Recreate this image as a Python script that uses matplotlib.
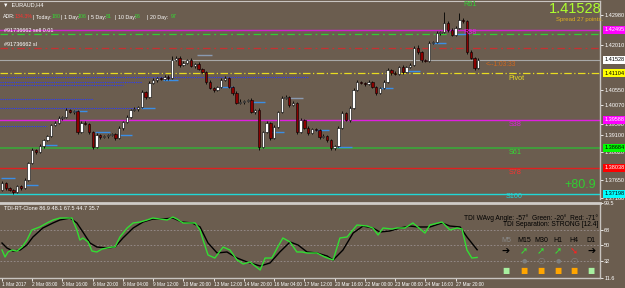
import numpy as np
import matplotlib.pyplot as plt
import matplotlib.transforms as mtransforms

plt.rcParams['font.family'] = ['Liberation Sans', 'DejaVu Sans']

BG = '#6b5d4f'
W, H = 625, 288
FS = 4.0  # small MT4-like text

# H4 candles (close prices), opens = previous close
first_open = 1.37327
closes = [1.37553, 1.37392, 1.37327, 1.37262, 1.37456, 1.37392, 1.37650, 1.38199, 1.38619, 1.38554,
          1.38748, 1.38942, 1.39071, 1.39429, 1.39493, 1.39653, 1.39685, 1.39911, 1.39846, 1.39878,
          1.39200, 1.39493, 1.39461, 1.39200, 1.38716, 1.39104, 1.39039, 1.39071, 1.39104, 1.39136,
          1.39007, 1.39330, 1.39524, 1.39685, 1.39911, 1.39943, 1.40008, 1.40492, 1.40331, 1.40783,
          1.40880, 1.40945, 1.40913, 1.40977, 1.40945, 1.41526, 1.41591, 1.41365, 1.41429, 1.41526,
          1.41332, 1.41397, 1.41236, 1.41138, 1.40815, 1.40622, 1.40557, 1.40654, 1.40880, 1.40945,
          1.40654, 1.40460, 1.40137, 1.40169, 1.40201, 1.40234, 1.39846, 1.39911, 1.38716, 1.39200,
          1.39493, 1.39007, 1.39362, 1.39846, 1.40299, 1.40331, 1.40072, 1.40137, 1.39200, 1.39588,
          1.39330, 1.39168, 1.39297, 1.39265, 1.39039, 1.39071, 1.38942, 1.38684, 1.38748, 1.39330,
          1.39814, 1.39588, 1.39976, 1.40557, 1.40815, 1.40783, 1.40751, 1.40815, 1.40654, 1.40460,
          1.40622, 1.40815, 1.41203, 1.41106, 1.41074, 1.41300, 1.41138, 1.41300, 1.41365, 1.41914,
          1.41784, 1.41526, 1.41494, 1.42075, 1.42107, 1.42398, 1.42430, 1.42721, 1.42495, 1.42334,
          1.42560, 1.42818, 1.42786, 1.41784, 1.41591, 1.41268, 1.41528]
up_wick = [5, 3, 4, 3, 4, 3, 6, 4, 5, 3,
           6, 4, 4, 3, 5, 6, 4, 5, 4, 3,
           4, 6, 5, 4, 3, 5, 3, 4, 3, 4,
           4, 6, 3, 5, 4, 6, 3, 6, 4, 5,
           6, 3, 4, 5, 6, 12, 8, 6, 5, 4,
           5, 4, 6, 3, 4, 5, 3, 4, 5, 6,
           3, 4, 5, 9, 4, 3, 6, 4, 5, 4,
           6, 3, 5, 4, 5, 6, 4, 5, 4, 5,
           4, 5, 3, 4, 3, 5, 4, 3, 4, 5,
           6, 4, 5, 6, 5, 4, 3, 5, 4, 3,
           4, 5, 6, 4, 5, 4, 5, 4, 5, 6,
           9, 4, 3, 5, 4, 5, 4, 35, 8, 5,
           5, 22, 6, 4, 5, 4, 5]
dn_wick = [4, 5, 3, 6, 4, 5, 3, 4, 3, 5,
           4, 5, 3, 4, 3, 4, 5, 3, 4, 5,
           5, 3, 4, 6, 8, 3, 5, 4, 5, 4,
           6, 4, 5, 3, 4, 3, 5, 4, 5, 3,
           4, 5, 3, 4, 5, 3, 4, 5, 4, 3,
           4, 5, 3, 4, 6, 4, 5, 3, 4, 3,
           4, 5, 4, 3, 5, 4, 3, 5, 9, 4,
           4, 6, 3, 4, 3, 4, 5, 4, 6, 3,
           4, 5, 3, 4, 5, 3, 6, 8, 5, 3,
           3, 4, 5, 4, 3, 4, 5, 3, 4, 5,
           3, 4, 3, 5, 4, 3, 5, 4, 3, 4,
           5, 6, 4, 3, 4, 3, 5, 4, 5, 4,
           3, 4, 5, 6, 4, 5, 4]

# pivot / order levels
r38, pivot, s38, s61, s78, s100 = 1.42495, 1.41104, 1.39588, 1.38684, 1.38038, 1.37198
sell_level, sl_level, bid = 1.42366, 1.41914, 1.41528

# short blue level marks
seg_bar = [0, 6, 11, 19, 25, 31, 37, 43, 52, 58, 66, 71, 76, 83, 89, 100, 107, 114, 120]
seg_price = [1.37715, 1.37489, 1.38781, 1.39878, 1.39200, 1.39104, 1.39975, 1.40880, 1.41688, 1.40654,
             1.40169, 1.39200, 1.40299, 1.39265, 1.38716, 1.40622, 1.41171, 1.42075, 1.42366]
# dotted blue lines from left edge
dot_price = [1.40977, 1.40815, 1.40718, 1.40266, 1.39976, 1.39394]
dot_end = [81, 37, 32, 24, 36, 12]

# visible price scale labels (others hidden behind the coloured level boxes)
price_ticks = [1.42980, 1.42010, 1.40550, 1.40070, 1.39470, 1.39100, 1.38560,
               1.37650, 1.37070]
price_tick_labels = ['1.42980', '1.42010', '1.40550', '1.40070', '1.39590', '1.39100', '1.38620',
                     '1.37650', '1.37160']

time_labels = ['1 Mar 2017', '2 Mar 08:00', '3 Mar 16:00', '6 Mar 20:00', '8 Mar 04:00',
               '9 Mar 12:00', '10 Mar 20:00', '13 Mar 12:00', '14 Mar 20:00', '16 Mar 04:00',
               '17 Mar 12:00', '20 Mar 16:00', '22 Mar 00:00', '23 Mar 08:00', '24 Mar 16:00',
               '27 Mar 20:00']

# TDI lines (bar position, value)
tdi_green_x = [0, 0.8, 1.6, 2.6, 4, 5.3, 6.6, 7.9, 10, 11.9,
               13.5, 15.3, 17.2, 18.5, 19.8, 20.6, 21.4, 22.8, 23.8, 25.1,
               26.5, 27.8, 29.1, 29.9, 31.2, 33.1, 34.7, 36.5, 38.4, 39.9,
               41.8, 43.7, 45.2, 46.3, 47.9, 49.7, 51.1, 52.4, 53.2, 54.5,
               56.3, 58.5, 60.3, 62.2, 63.8, 65.6, 68.3, 69.6, 71.4, 72.8,
               74.3, 76.2, 78, 79.4, 80.7, 83.3, 85.4, 87.6, 89.4, 91.3,
               93.9, 96.6, 98.1, 99.5, 100.8, 103.2, 104.5, 106.6, 108.7, 110,
               111.9, 113.2, 116.4, 118.5, 120.4, 121.7, 123, 124.3, 125.7]
tdi_green = [44.4, 36.2, 42.1, 44.4, 43.2, 47.9, 56.1, 67.9, 71.4, 76.1,
             79.6, 81.9, 81.9, 81.9, 67.9, 56.1, 58.5, 53.8, 43.2, 42.1,
             45.6, 46.8, 47.9, 47.9, 59.7, 70.2, 76.1, 77.2, 79.6, 81.9,
             80.7, 79.6, 83.1, 80.7, 76.1, 76.1, 76.1, 67.9, 56.1, 38.6,
             35.0, 47.9, 44.4, 32.7, 28.0, 30.4, 21.0, 35.0, 35.0, 46.8,
             58.5, 53.8, 42.1, 42.1, 40.9, 40.9, 36.2, 32.7, 58.5, 59.7,
             73.7, 72.5, 70.2, 62.0, 70.2, 69.0, 70.2, 70.2, 76.1, 71.4,
             64.3, 73.7, 77.2, 67.9, 70.2, 69.0, 44.4, 35.0, 35.7]
tdi_black_x = [0, 1.3, 2.9, 4.8, 6.6, 8.2, 10.8, 13.5, 15.3, 18,
               19.8, 21.4, 23.3, 25.1, 27.8, 29.9, 32, 34.7, 37.3, 39.9,
               42.6, 45.2, 47.6, 50.3, 52.4, 54.5, 55, 56.9, 59.5, 62.2,
               64.8, 68.3, 70.9, 73.5, 76.2, 78.3, 80.7, 83.3, 86, 87.6,
               90.2, 92.9, 95.5, 98.1, 100, 102.6, 105.3, 107.9, 110, 113.2,
               116.4, 118.5, 121.2, 123, 125.7]
tdi_black = [52.6, 46.8, 43.2, 44.4, 50.3, 59.7, 70.2, 76.1, 79.6, 81.9,
             76.1, 65.5, 52.6, 47.9, 46.8, 47.9, 58.5, 70.2, 77.2, 80.7,
             80.7, 81.9, 77.2, 76.1, 71.4, 52.6, 50.3, 40.9, 42.1, 35.0,
             30.4, 25.7, 29.2, 42.1, 53.8, 50.3, 42.1, 40.9, 37.4, 32.7,
             44.4, 64.3, 72.5, 70.2, 65.5, 66.7, 70.2, 72.5, 71.4, 71.4,
             76.1, 72.5, 71.4, 59.7, 44.7]
tdi_levels = [68, 50, 32]
tdi_ticks = [99.5, 68, 50, 32, 11.6]

tf_names = ['M5', 'M15', 'M30', 'H1', 'H4', 'D1']
tf_arrows = ['➔', '➚', '➚', '➚', '➘', '➔']
tf_arrow_colors = ['black', '#33e533', '#33e533', '#33e533', '#ff2020', 'black']
tf_box_colors = ['#a8f0a0', '#ffa500', '#ffa500', '#ffa500', '#ffa500', '#a8f0a0']


def fx(x):
    return x / W


def fy(y):
    return 1 - y / H


fig = plt.figure(figsize=(6.25, 2.88), dpi=100)
fig.patch.set_facecolor(BG)

px_per_bar = 3.78
xlim = (-2 / px_per_bar, 598 / px_per_bar)

ax = fig.add_axes([0, fy(199), 600 / W, 198 / H])
ax.set_facecolor(BG)
ax.set_xlim(*xlim)
ax.set_ylim(1.43464 - 0.000323 * 199, 1.43464 - 0.000323 * 1)

# horizontal levels
ax.axhline(r38, color='#d020d0', lw=1.0)
ax.axhline(sell_level, color='#33cc33', lw=0.9, ls=(0, (6, 3, 1.5, 3)))
ax.axhline(sl_level, color='#c83030', lw=0.9, ls=(0, (6, 3, 1.5, 3)))
ax.axhline(bid, color='#a8a8a8', lw=0.8)
ax.axhline(pivot, color='#e8dc20', lw=0.9, ls=(0, (6, 2, 1, 2)))
ax.axhline(s38, color='#e020e0', lw=1.0)
ax.axhline(s61, color='#3aa83a', lw=1.2)
ax.axhline(s78, color='#e02020', lw=1.0)
ax.axhline(s100, color='#20d8d8', lw=1.0)

for p, e in zip(dot_price, dot_end):
    ax.hlines(p, xlim[0], e, color='#2a3cff', lw=0.8, ls=(0, (1, 1)))

for b, p in zip(seg_bar, seg_price):
    c = '#8a9ab0' if b in (52, 76) else '#3a8ee6'
    ax.hlines(p, b - 0.3, b + 3.5, color=c, lw=1.0, zorder=3)

# candles
closes_a = np.array(closes)
opens = np.concatenate([[first_open], closes_a[:-1]])
idx = np.arange(len(closes_a))
highs = np.maximum(opens, closes_a) + np.array(up_wick) * 0.0001
lows = np.minimum(opens, closes_a) - np.array(dn_wick) * 0.0001
ax.vlines(idx, lows, highs, color='black', lw=0.6, zorder=4)
bull = closes_a >= opens
body_col = np.where(bull, 'white', '#8b0000')
ax.bar(idx, closes_a - opens, bottom=opens, width=0.62, color=body_col,
       edgecolor='black', linewidth=0.4, zorder=5)

# right price axis
ax.yaxis.tick_right()
ax.set_yticks(price_ticks)
ax.set_yticklabels(price_tick_labels)
ax.tick_params(axis='y', colors='white', labelsize=FS, length=2, width=0.6, pad=1)
ax.set_xticks([])
for s in ['left', 'bottom']:
    ax.spines[s].set_visible(False)
ax.spines['top'].set_color('#c8c4c0')
ax.spines['top'].set_linewidth(0.8)
ax.spines['right'].set_color('#c8c4c0')
ax.spines['right'].set_linewidth(1.0)

trans = mtransforms.blended_transform_factory(ax.transAxes, ax.transData)
boxes = [(r38, '#ff00ff', 'white'), (bid, 'white', 'black'), (pivot, '#ffff00', 'black'),
         (s38, '#ff00ff', 'white'), (s61, '#00ff00', 'black'), (s78, '#ff0000', 'white'),
         (s100, '#00ffff', 'black')]
for p, bc, tc in boxes:
    ax.text(1.008, p, '%.5f' % p, transform=trans, fontsize=FS, color=tc, va='center',
            ha='left', clip_on=False, zorder=10,
            bbox=dict(boxstyle='square,pad=0.25', fc=bc, ec='none'))

# level labels
lbl = [('R61', 463, 5, '#33cc33'), ('R38', 463, 33, '#e020e0'), ('Pivot', 508, 79, '#e8dc20'),
       ('S38', 509, 124, '#e020e0'), ('S61', 509, 152, '#33dd33'), ('S78', 509, 172, '#ff3030'),
       ('S100', 506, 197, '#20d8d8')]
for t, x, y, c in lbl:
    fig.text(fx(x), fy(y), t, fontsize=5.2, color=c, va='center', ha='left')

fig.text(fx(486), fy(64), '<--1:03:33', fontsize=4.8, color='#d2691e', va='center')
fig.text(fx(602), fy(9), '1.41528', fontsize=10.5, color='#adff2f', va='center', ha='right')
fig.text(fx(603), fy(20), 'Spread 27 points.', fontsize=FS + 0.3, color='#e0b020', va='center', ha='right')
fig.text(fx(596), fy(185), '+80.9', fontsize=9, color='#32cd32', va='center', ha='right')

# top-left texts
fig.text(fx(3), fy(5), '▼  EURAUD,H4', fontsize=FS, color='white', va='center')
adr = [('ADR:', 3, 'white'), ('134.3%', 15, '#ff3030'), ('| Today:', 33, 'white'),
       ('180', 52, '#33dd33'), ('| 1 Day:', 61, 'white'), ('106', 78, '#33dd33'),
       ('| 5 Day:', 88, 'white'), ('81', 106, '#33dd33'), ('| 10 Day:', 115, 'white'),
       ('96', 135, '#33dd33'), ('| 20 Day:', 147, 'white'), ('97', 171, '#33dd33')]
for t, x, c in adr:
    fig.text(fx(x), fy(17), t, fontsize=FS - 0.2, color=c, va='center')
fig.text(fx(4), fy(31), '#91736662 sell 0.01', fontsize=FS, color='white', va='center')
fig.text(fx(4), fy(44), '#91736662 sl', fontsize=FS, color='white', va='center')

# TDI sub window
sub = fig.add_axes([0, fy(278), 600 / W, 75 / H])
sub.set_facecolor(BG)
sub.set_xlim(*xlim)
sub.set_ylim(11.6, 99.5)
for lv in tdi_levels:
    sub.axhline(lv, color='#9a9090', lw=0.6, ls=(0, (2, 2)))
sub.plot(tdi_black_x, tdi_black, color='black', lw=1.0)
sub.plot(tdi_green_x, tdi_green, color='#33dd33', lw=1.0)
sub.yaxis.tick_right()
sub.set_yticks(tdi_ticks)
sub.set_yticklabels(['99.5', '68', '50', '32', '11.6'])
sub.tick_params(axis='y', colors='white', labelsize=FS, length=2, width=0.6, pad=1)
sub.set_xticks(np.arange(len(time_labels)) * 8)
sub.set_xticklabels(time_labels, ha='left')
sub.tick_params(axis='x', colors='white', labelsize=3.4, length=2, width=0.6, pad=1)
sub.spines['left'].set_visible(False)
sub.spines['top'].set_color('#d0ccc8')
sub.spines['top'].set_linewidth(2.0)
for s in ['right', 'bottom']:
    sub.spines[s].set_color('#c8c4c0')
    sub.spines[s].set_linewidth(1.0)

fig.text(fx(4), fy(208), 'TDI-RT-Clone 86.9 48.1 67.5 44.7 35.7', fontsize=FS, color='white', va='center')
fig.text(fx(598), fy(218), "TDI WAvg Angle: -57°  Green: -20°  Red: -71°", fontsize=4.8,
         color='black', va='center', ha='right')
fig.text(fx(598), fy(225), 'TDI Separation: STRONG [12.4]', fontsize=4.8, color='black',
         va='center', ha='right')

tf_x = [506, 524, 541, 558, 574, 591]
for k, (n, a, ac, bc) in enumerate(zip(tf_names, tf_arrows, tf_arrow_colors, tf_box_colors)):
    x = tf_x[k]
    fig.text(fx(x), fy(241), n, fontsize=5, color='#8a8a8a' if k == 0 else 'black',
             ha='center', va='center')
    fig.text(fx(x), fy(251), a, fontsize=7, color=ac, ha='center', va='center', fontweight='bold',
             family='DejaVu Sans')
    fig.text(fx(x), fy(271), '■', fontsize=5.5, color=bc, ha='center', va='center',
             family='DejaVu Sans')
dot_style = ['small', 'dot', 'ring', 'dot', 'ring', 'small']
for k, st in enumerate(dot_style):
    x = fx(tf_x[k])
    if st == 'small':
        fig.text(x, fy(261), '•', fontsize=3, color='#8a8a8a', ha='center', va='center')
    elif st == 'dot':
        fig.text(x, fy(261), '●', fontsize=4.5, color='#7f7f7f', ha='center', va='center',
                 family='DejaVu Sans')
    else:
        fig.text(x, fy(261), '○', fontsize=6, color='#7f7f7f', ha='center', va='center',
                 fontweight='bold', family='DejaVu Sans')

fig.savefig('out.png', dpi=100, facecolor=BG)
